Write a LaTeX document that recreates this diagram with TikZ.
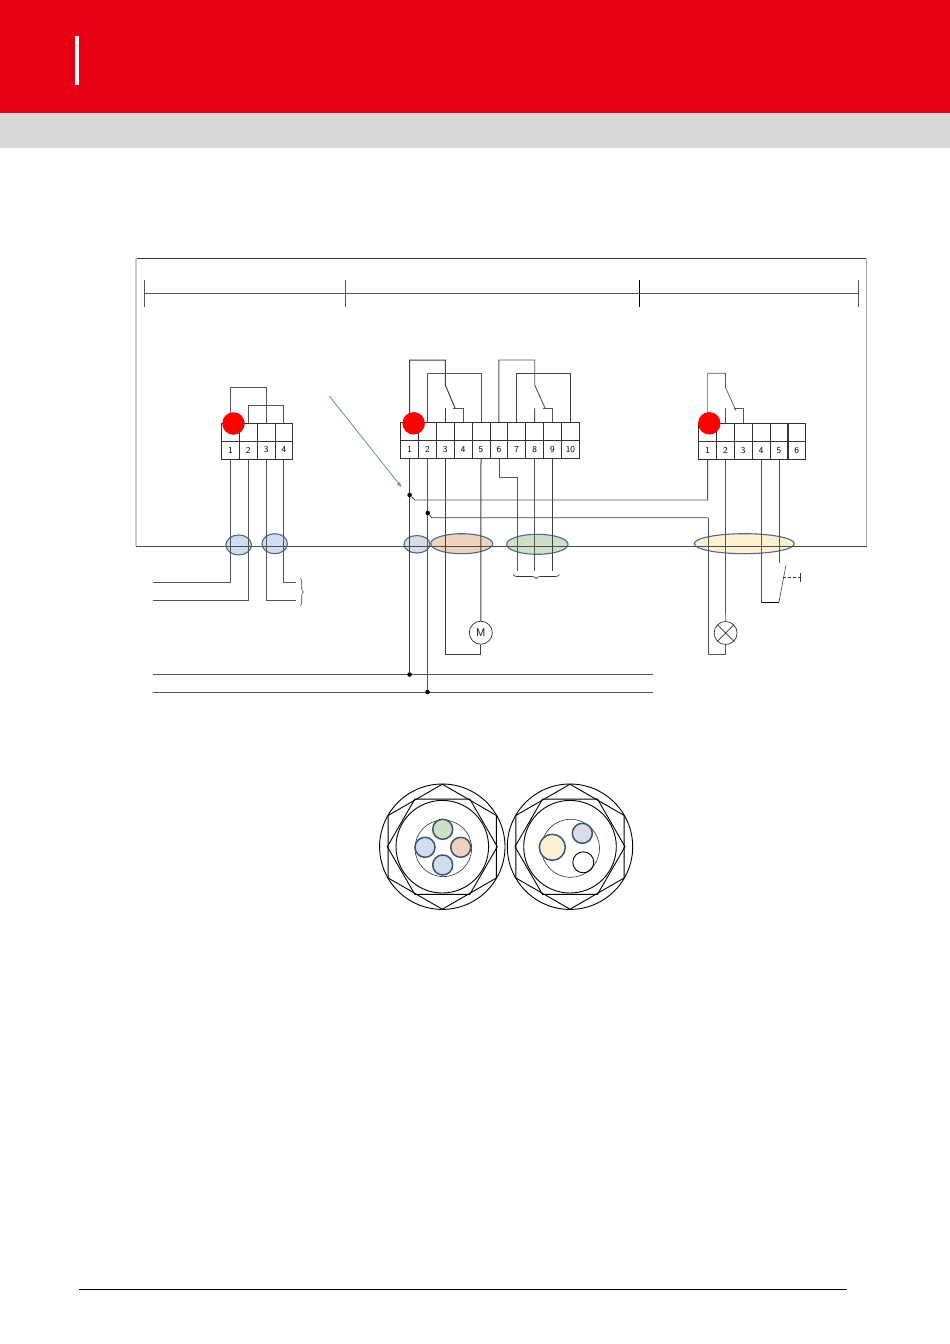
\documentclass[tikz,border=0pt]{standalone}
\usetikzlibrary{decorations.pathreplacing,calc}
\definecolor{headred}{RGB}{230,0,18}
\definecolor{headgrey}{RGB}{217,217,217}
\definecolor{wire}{RGB}{85,85,85}
\definecolor{ringblue}{RGB}{75,105,145}
\definecolor{coreblue}{RGB}{207,222,240}
\definecolor{coregrey}{RGB}{216,222,230}
\definecolor{coreorange}{RGB}{240,211,188}
\definecolor{coregreen}{RGB}{207,225,197}
\definecolor{coreyellow}{RGB}{253,241,207}
\definecolor{arrowblue}{RGB}{95,140,195}
\tikzset{
  wirepath/.style={draw=wire,line width=0.9pt},
  darkwire/.style={draw=black!75,line width=1pt},
  cell/.style={draw=black!80,line width=0.8pt,minimum width=17.85pt,minimum height=18pt,inner sep=0pt,font=\sffamily\fontsize{9}{9}\selectfont},
  blankcell/.style={cell,text=white},
  redspot/.style={circle,fill=red,minimum size=22.5pt,inner sep=0pt},
  junction/.style={circle,fill=black,minimum size=4.6pt,inner sep=0pt},
  cablering/.style={ellipse,draw=ringblue,line width=1.1pt,inner sep=0pt},
  core/.style={circle,draw=ringblue!80!black,line width=1.5pt,inner sep=0pt},
  load/.style={circle,draw=black!80,fill=white,line width=0.7pt,minimum size=23pt,inner sep=0pt,font=\sffamily\fontsize{11}{11}\selectfont},
  glandline/.style={draw=black,line width=0.9pt},
}
\usetikzlibrary{shapes.geometric}
\newcommand{\hexring}[3]{% centre, radius, start angle
  \draw[glandline] ($(#1)+(#3:#2)$)
    \foreach \k in {1,...,5} { -- ($(#1)+({#3+60*\k}:#2)$) } -- cycle;
}
\begin{document}
\begin{tikzpicture}[x=1pt,y=-1pt]
\useasboundingbox (0,0) rectangle (950,1344);

% header
\fill[headred] (0,0) rectangle (950,113);
\fill[headgrey] (0,113) rectangle (950,148);
\fill[white] (75,36) rectangle (79,85);
\draw[black,line width=0.9pt] (79,1289.5) -- (847,1289.5);

% frame
\draw[black!80,line width=1pt] (136,258) -- (866,258);
\draw[black!20,line width=1.2pt] (136,258) -- (136,546);
\draw[black!35,line width=1pt] (866.5,258) -- (866.5,546);
\foreach \x/\c in {144.5/wire,345.5/wire,639/black,858.5/wire}
  \draw[\c,line width=0.7pt] (\x,280) -- (\x,307);
\draw[wire,line width=0.7pt] (144.5,293) -- (858.5,293);

% cable rings
\node[cablering,fill=coreblue,minimum width=25.5pt,minimum height=20pt] (ringa) at (238.7,545) {};
\node[cablering,fill=coreblue,minimum width=25.5pt,minimum height=20pt] (ringb) at (274.7,543.7) {};
\node[cablering,fill=coregrey,minimum width=26pt,minimum height=17.5pt] (ringc) at (417,544.3) {};
\node[cablering,fill=coreorange,minimum width=62pt,minimum height=20pt] (ringd) at (461.7,543.7) {};
\node[cablering,fill=coregreen,minimum width=61.5pt,minimum height=20pt] (ringe) at (537.3,544.3) {};
\node[cablering,fill=coreyellow,minimum width=100pt,minimum height=20pt] (ringf) at (744.3,543.7) {};
\draw[black!70,line width=0.8pt] (136,546.5) -- (866.5,546.5);

% terminal block A
\foreach \n/\x in {1/230.4,2/248.2,3/266.1,4/283.9}{
  \node[blankcell] (atop\n) at (\x,432) {};
  \node[cell] (a\n) at (\x,450) {\n};
}
% terminal block B
\foreach \n/\x in {1/409.6,2/427.5,3/445.3,4/463.2,5/481,6/498.9,7/516.8,8/534.6,9/552.5,10/570.4}{
  \node[blankcell] (btop\n) at (\x,431.3) {};
  \node[cell] (b\n) at (\x,449.3) {\n};
}
% terminal block C
\foreach \n/\x in {1/707.6,2/725.4,3/743.3,4/761.1,5/779,6/796.8}{
  \node[blankcell] (ctop\n) at (\x,432.3) {};
  \node[cell] (c\n) at (\x,450.3) {\n};
}

% wires block A
\draw[wirepath] (atop1.north) |- (230.4,387) -| (atop3.north);
\draw[wirepath] (atop2.north) |- (248.2,405) -| (atop4.north);
\coordinate (lefta) at (153,582.7);
\coordinate (leftb) at (153,600.7);
\coordinate (righta) at (296,582.7);
\coordinate (rightb) at (296,600.7);
\draw[wirepath] (a1.south) |- (lefta);
\draw[wirepath] (a2.south) |- (leftb);
\draw[wirepath] (a3.south) |- (rightb);
\draw[wirepath] (a4.south) |- (righta);
\draw[black!70,line width=0.6pt,decorate,decoration={brace,amplitude=3.5pt}] (300,578) -- (300,606);

% wires block B
\coordinate (swa) at (445.3,385);
\coordinate (swb) at (534.7,385);
\draw[darkwire] (btop1.north) |- (445.3,360) -- (swa) -- (455,408);
\draw[darkwire] (btop3.north) -- (445.3,407.7);
\draw[wirepath,line width=0.6pt] (453.3,408) -| (btop4.north);
\draw[wirepath] (btop2.north) |- (427.3,373.3) -| (btop5.north);
\draw[wirepath] (btop6.north) |- (498.9,360) -| (swb) -- (545,408);
\draw[wirepath] (btop8.north) -- (534.7,408);
\draw[wirepath,line width=0.6pt] (543.3,408) -| (btop9.north);
\draw[darkwire] (btop7.north) |- (516.8,373.3) -| (btop10.north);

\node[load] (motor) at (480.8,632.7) {M};
\coordinate (busa) at (153,674.5);
\coordinate (busb) at (153,692);
\coordinate (busaend) at (653,674.5);
\coordinate (busbend) at (653,692);
\draw[wirepath,line width=0.7pt] (busa) -- (busaend);
\draw[wirepath,line width=0.9pt] (busb) -- (busbend);
\node[junction] (joina) at (409.6,674.5) {};
\node[junction] (joinb) at (427.5,692) {};
\draw[darkwire] (b1.south) -- (joina);
\draw[wirepath,line width=0.7pt] (b2.south) -- (joinb);
\draw[darkwire] (b3.south) |- (445.3,654) -| (motor.south);
\draw[darkwire] (b5.south) -- (motor.north);
\coordinate (enda) at (517.3,570.7);
\coordinate (endb) at (534.6,570.7);
\coordinate (endc) at (552.5,570.7);
\draw[wirepath,line width=0.7pt] (b6.south) |- (517.3,477) -- (enda);
\draw[wirepath,line width=0.7pt] (b8.south) -- (endb);
\draw[darkwire,line width=0.8pt] (b9.south) -- (endc);
\draw[black!80,line width=0.7pt,decorate,decoration={brace,mirror,amplitude=4pt}] (513,574.5) -- (559.5,574.5);

% link wires to block C
\node[junction] (tapa) at (409.6,495) {};
\node[junction] (tapb) at (427.8,513) {};
\node[load] (lamp) at (725.6,633) {};
\draw[black!80,line width=0.6pt] (lamp.north west) -- (lamp.south east) (lamp.north east) -- (lamp.south west);
\draw[wirepath] (tapa) -- (415,500) -| (c1.south);
\draw[darkwire,line width=0.8pt] (tapb) -- (431.7,517.7) -- (708.3,517.7);
\draw[wirepath,line width=0.8pt] (708.3,517.7) |- (725.6,654) -- (lamp.south);
\draw[wirepath,line width=0.7pt] (c2.south) -- (lamp.north);

% wires block C
\coordinate (swc) at (725.4,387.3);
\draw[wirepath,line width=0.7pt] (ctop1.north) |- (725.4,373.3) -- (swc) -- (736,410.7);
\draw[wirepath,line width=0.6pt] (ctop2.north) -- (725.4,408);
\draw[wirepath,line width=0.6pt] (734,408.7) -| (ctop3.north);
\coordinate (pusha) at (778.9,602.3);
\draw[wirepath,line width=0.7pt] (c4.south) |- (pusha);
\draw[black,line width=1pt] (761.1,602.3) -- (pusha);
\draw[wirepath,line width=0.7pt] (pusha) -- (786,565);
\draw[wirepath,line width=0.7pt] (c5.south) -- (779,563.3);
\draw[black!80,line width=0.6pt,densely dashed] (782.7,577.3) -- (800.7,577.3);
\draw[black!80,line width=0.7pt] (800.7,573) -- (800.7,582);

% red spots
\node[redspot] (spota) at (233.5,423.5) {};
\node[redspot] (spotb) at (413.7,423.3) {};
\node[redspot] (spotc) at (709.3,423.3) {};

% note arrow
\coordinate (notetail) at (329.3,396);
\coordinate (notehead) at (401.7,487.3);
\draw[arrowblue,line width=0.8pt,-latex] (notetail) -- (notehead);

% cable glands
\foreach \g/\cx in {l/442.3,r/570}{
  \coordinate (gland\g) at (\cx,846.7);
  \draw[glandline] (gland\g) circle (62.7);
  \draw[glandline] (gland\g) circle (46.3);
  \hexring{gland\g}{62.5}{90}
  \hexring{gland\g}{55}{0}
}
\draw[black!80,line width=0.6pt] (443.3,848.3) circle (28.3);
\draw[black!80,line width=0.6pt] (570.5,848.3) circle (29);
\node[core,fill=coregreen,minimum size=20pt] (corea) at (442.7,829.3) {};
\node[core,fill=coreblue,minimum size=20pt] (coreb) at (425,847.3) {};
\node[core,fill=coreorange,minimum size=20pt] (corec) at (460.7,847.3) {};
\node[core,fill=coreblue,minimum size=20pt] (cored) at (442.7,865) {};
\node[core,fill=coreyellow,minimum size=26pt] (coree) at (552.3,847.3) {};
\node[core,fill=coregrey,minimum size=20pt] (coref) at (582.3,833.3) {};
\node[circle,draw=black,line width=0.9pt,inner sep=0pt,minimum size=21pt] (coreg) at (583.3,862.3) {};
\end{tikzpicture}
\end{document}
